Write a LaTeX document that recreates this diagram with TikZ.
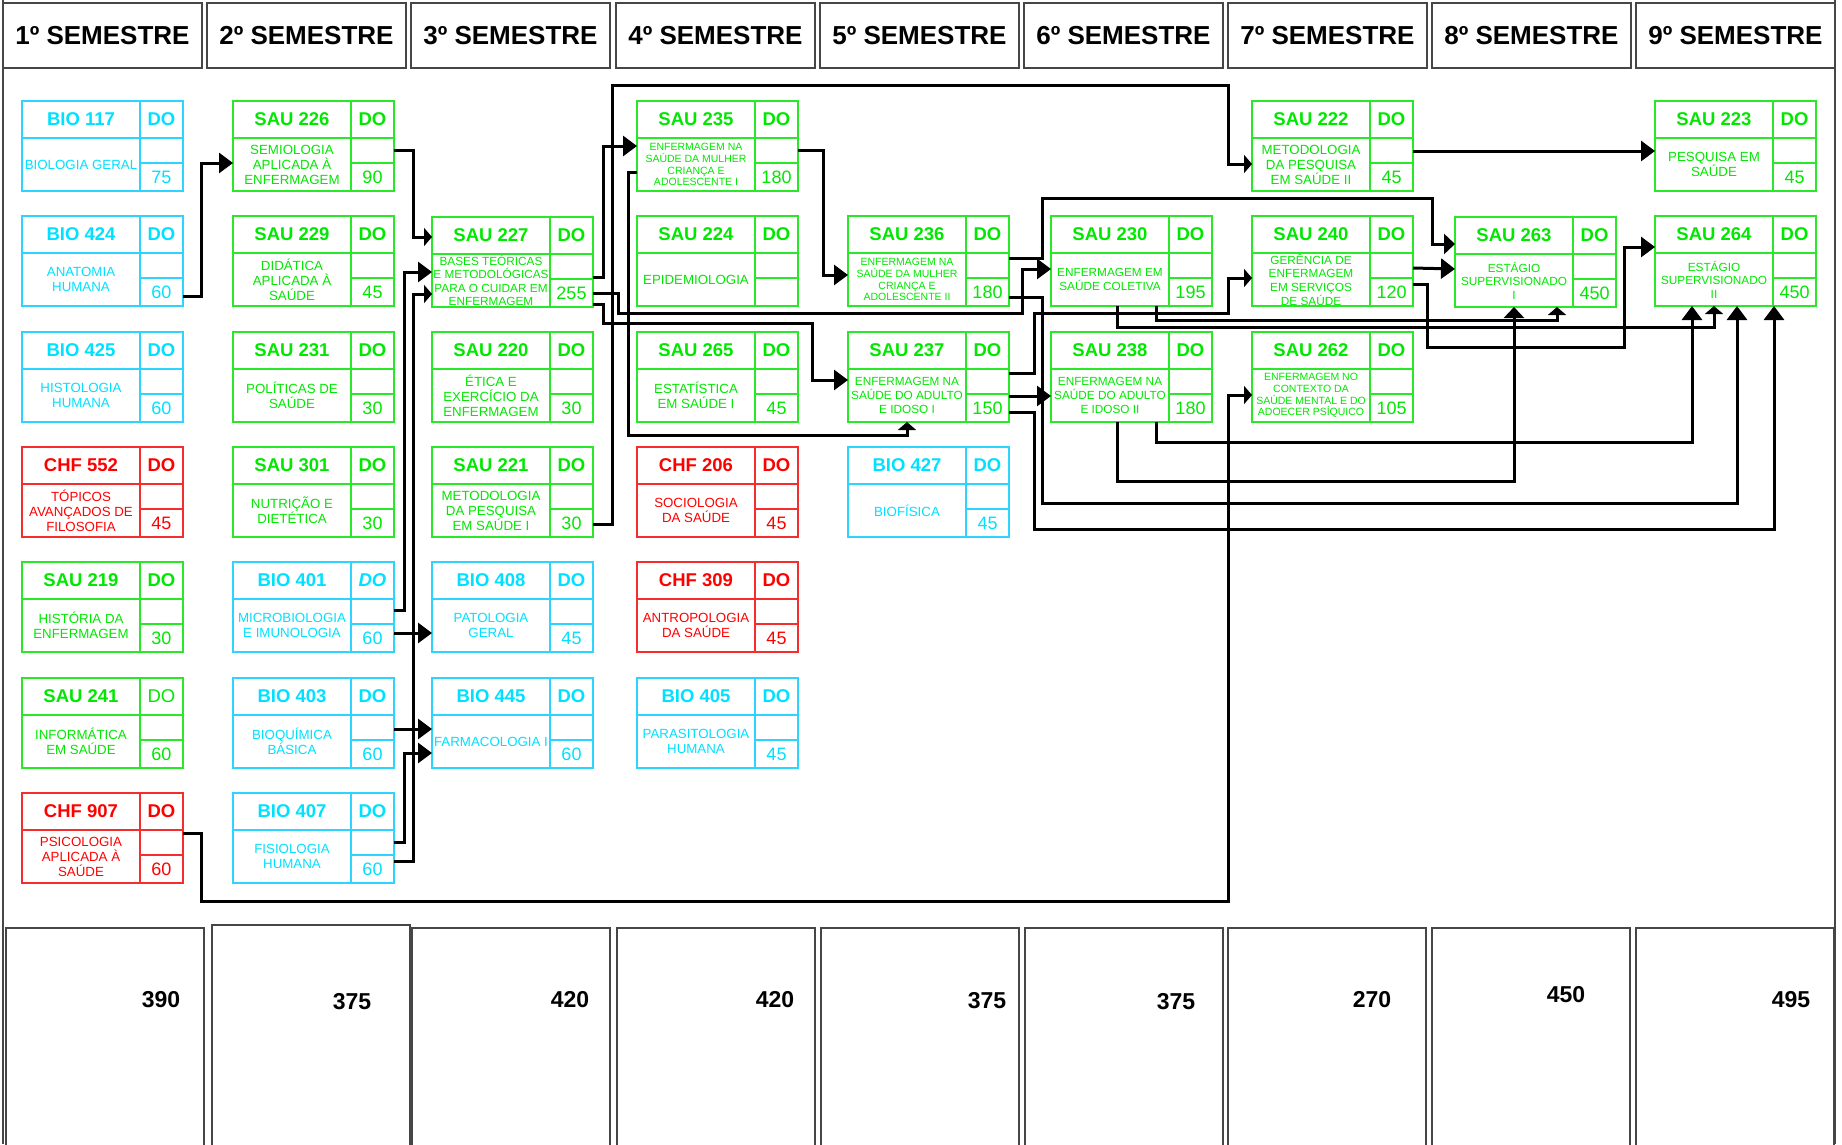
\documentclass[tikz,border=0pt]{standalone}
\usepackage{fontspec}
\setmainfont{Liberation Sans}
\usetikzlibrary{arrows.meta}
\definecolor{cy}{RGB}{0,225,255}
\definecolor{cyL}{RGB}{45,212,255}
\definecolor{gr}{RGB}{0,232,0}
\definecolor{grL}{RGB}{40,232,40}
\definecolor{rd}{RGB}{255,0,0}
\definecolor{rdL}{RGB}{245,45,45}
\newcommand{\fcode}{\fontsize{18.5}{20}\selectfont\bfseries}
\newcommand{\fnum}{\fontsize{18}{20}\selectfont}
\newcommand{\ftit}{\fontsize{13.3}{15}\selectfont}
\newcommand{\ftitM}{\fontsize{11.8}{13.6}\selectfont}
\newcommand{\ftitS}{\fontsize{10.5}{11.8}\selectfont}
\newcommand{\crs}[9]{%
 \node[cbox, draw=#4L, anchor=north west] (#1) at (#2,#3) {};
 \draw[draw=#4L, line width=1.5pt] ([xshift=118pt]#1.north west) -- ([xshift=118pt]#1.south west)
   ([yshift=-37pt]#1.north west) -- ([yshift=-37pt]#1.north east)
   ([xshift=118pt,yshift=-62pt]#1.north west) -- ([yshift=-62pt]#1.north east);
 \node[text=#4, font=\fcode] (#1c) at ([xshift=59pt,yshift=-18.5pt]#1.north west) {#5};
 \node[text=#4, font=\fcode#6] (#1d) at ([xshift=139.5pt,yshift=-18.5pt]#1.north west) {DO};
 \node[text=#4, font=#9, align=center, inner sep=0pt] (#1t) at ([xshift=59pt,yshift=-63.5pt]#1.north west) {#7};
 \node[text=#4, font=\fnum] (#1n) at ([xshift=139.5pt,yshift=-76pt]#1.north west) {#8};
}
\tikzset{
 cbox/.style={minimum width=161pt, minimum height=90pt, inner sep=0pt, outer sep=0pt, line width=1.5pt},
 hdr/.style={draw=gray!55!black, line width=1.5pt, minimum width=199pt, minimum height=65pt, inner sep=0pt, font=\fontsize{26}{30}\selectfont\bfseries},
 tot/.style={draw=gray!55!black, line width=1.5pt, minimum width=198pt, minimum height=240pt, inner sep=0pt, anchor=north west},
 totnum/.style={font=\fontsize{23}{26}\selectfont\bfseries},
 conn/.style={draw=black, line width=3pt},
 abig/.style={conn, -{Triangle[length=14pt,width=20pt]}},
 amed/.style={conn, -{Triangle[length=11pt,width=20pt]}},
 asml/.style={conn, -{Triangle[length=8pt,width=18pt]}},
}
\begin{document}
\begin{tikzpicture}[x=1pt,y=-1pt]
\useasboundingbox[fill=white] (0,0) rectangle (1842,1144);
% frame
\draw[gray!55!black, line width=1.3pt] (3,0) -- (3,1144);
\draw[gray!55!black, line width=1.3pt] (1835,0) -- (1835,1144);
% headers
\node[hdr] (h1) at (102.5,35.5) {1º SEMESTRE};
\node[hdr] (h2) at (306.5,35.5) {2º SEMESTRE};
\node[hdr] (h3) at (510.5,35.5) {3º SEMESTRE};
\node[hdr] (h4) at (715.5,35.5) {4º SEMESTRE};
\node[hdr] (h5) at (919.5,35.5) {5º SEMESTRE};
\node[hdr] (h6) at (1123.5,35.5) {6º SEMESTRE};
\node[hdr] (h7) at (1327.5,35.5) {7º SEMESTRE};
\node[hdr] (h8) at (1531.5,35.5) {8º SEMESTRE};
\node[hdr] (h9) at (1735.5,35.5) {9º SEMESTRE};
% totals
\node[tot] (t1) at (5,927) {};
\node[tot] (t2) at (211,924) {};
\node[tot] (t3) at (411,927) {};
\node[tot] (t4) at (616,927) {};
\node[tot] (t5) at (820,927) {};
\node[tot] (t6) at (1024,927) {};
\node[tot] (t7) at (1227,927) {};
\node[tot] (t8) at (1431,927) {};
\node[tot] (t9) at (1635,927) {};
\node[totnum] (n1) at (161,1000) {390};
\node[totnum] (n2) at (352,1002) {375};
\node[totnum] (n3) at (570,1000) {420};
\node[totnum] (n4) at (775,1000) {420};
\node[totnum] (n5) at (987,1001) {375};
\node[totnum] (n6) at (1176,1002) {375};
\node[totnum] (n7) at (1372,1000) {270};
\node[totnum] (n8) at (1566,995) {450};
\node[totnum] (n9) at (1791,1000) {495};
% column 1
\crs{b117}{22}{101}{cy}{BIO 117}{}{BIOLOGIA GERAL}{75}{\ftit}
\crs{b424}{22}{216}{cy}{BIO 424}{}{ANATOMIA\\HUMANA}{60}{\ftit}
\crs{b425}{22}{332}{cy}{BIO 425}{}{HISTOLOGIA\\HUMANA}{60}{\ftit}
\crs{c552}{22}{447}{rd}{CHF 552}{}{TÓPICOS\\AVANÇADOS DE\\FILOSOFIA}{45}{\ftit}
\crs{s219}{22}{562}{gr}{SAU 219}{}{HISTÓRIA DA\\ENFERMAGEM}{30}{\ftit}
\crs{s241}{22}{678}{gr}{SAU 241}{\mdseries}{INFORMÁTICA\\EM SAÚDE}{60}{\ftit}
\crs{c907}{22}{793}{rd}{CHF 907}{}{PSICOLOGIA\\APLICADA À\\SAÚDE}{60}{\ftit}
% column 2
\crs{s226}{233}{101}{gr}{SAU 226}{}{SEMIOLOGIA\\APLICADA À\\ENFERMAGEM}{90}{\ftit}
\crs{s229}{233}{216}{gr}{SAU 229}{}{DIDÁTICA\\APLICADA À\\SAÚDE}{45}{\ftit}
\crs{s231}{233}{332}{gr}{SAU 231}{}{POLÍTICAS DE\\SAÚDE}{30}{\ftit}
\crs{s301}{233}{447}{gr}{SAU 301}{}{NUTRIÇÃO E\\DIETÉTICA}{30}{\ftit}
\crs{b401}{233}{562}{cy}{BIO 401}{\itshape}{MICROBIOLOGIA\\E IMUNOLOGIA}{60}{\ftit}
\crs{b403}{233}{678}{cy}{BIO 403}{}{BIOQUÍMICA\\BÁSICA}{60}{\ftit}
\crs{b407}{233}{793}{cy}{BIO 407}{}{FISIOLOGIA\\HUMANA}{60}{\ftit}
% column 3
\crs{s227}{432}{217}{gr}{SAU 227}{}{BASES TEÓRICAS\\E METODOLÓGICAS\\PARA O CUIDAR EM\\ENFERMAGEM}{255}{\ftitM}
\crs{s220}{432}{332}{gr}{SAU 220}{}{ÉTICA E\\EXERCÍCIO DA\\ENFERMAGEM}{30}{\ftit}
\crs{s221}{432}{447}{gr}{SAU 221}{}{METODOLOGIA\\DA PESQUISA\\EM SAÚDE I}{30}{\ftit}
\crs{b408}{432}{562}{cy}{BIO 408}{}{PATOLOGIA\\GERAL}{45}{\ftit}
\crs{b445}{432}{678}{cy}{BIO 445}{}{FARMACOLOGIA I}{60}{\ftit}
% column 4
\crs{s235}{637}{101}{gr}{SAU 235}{}{ENFERMAGEM NA\\SAÚDE DA MULHER\\CRIANÇA E\\ADOLESCENTE I}{180}{\ftitS}
\crs{s224}{637}{216}{gr}{SAU 224}{}{EPIDEMIOLOGIA}{}{\ftit}
\crs{s265}{637}{332}{gr}{SAU 265}{}{ESTATÍSTICA\\EM SAÚDE I}{45}{\ftit}
\crs{c206}{637}{447}{rd}{CHF 206}{}{SOCIOLOGIA\\DA SAÚDE}{45}{\ftit}
\crs{c309}{637}{562}{rd}{CHF 309}{}{ANTROPOLOGIA\\DA SAÚDE}{45}{\ftit}
\crs{b405}{637}{678}{cy}{BIO 405}{}{PARASITOLOGIA\\HUMANA}{45}{\ftit}
% column 5
\crs{s236}{848}{216}{gr}{SAU 236}{}{ENFERMAGEM NA\\SAÚDE DA MULHER\\CRIANÇA E\\ADOLESCENTE II}{180}{\ftitS}
\crs{s237}{848}{332}{gr}{SAU 237}{}{ENFERMAGEM NA\\SAÚDE DO ADULTO\\E IDOSO I}{150}{\ftitM}
\crs{b427}{848}{447}{cy}{BIO 427}{}{BIOFÍSICA}{45}{\ftit}
% column 6
\crs{s230}{1051}{216}{gr}{SAU 230}{}{ENFERMAGEM EM\\SAÚDE COLETIVA}{195}{\ftitM}
\crs{s238}{1051}{332}{gr}{SAU 238}{}{ENFERMAGEM NA\\SAÚDE DO ADULTO\\E IDOSO II}{180}{\ftitM}
% column 7
\crs{s222}{1252}{101}{gr}{SAU 222}{}{METODOLOGIA\\DA PESQUISA\\EM SAÚDE II}{45}{\ftit}
\crs{s240}{1252}{216}{gr}{SAU 240}{}{GERÊNCIA DE\\ENFERMAGEM\\EM SERVIÇOS\\DE SAÚDE}{120}{\ftitM}
\crs{s262}{1252}{332}{gr}{SAU 262}{}{ENFERMAGEM NO\\CONTEXTO DA\\SAÚDE MENTAL E DO\\ADOECER PSÍQUICO}{105}{\ftitS}
% column 8
\crs{s263}{1455}{217}{gr}{SAU 263}{}{ESTÁGIO\\SUPERVISIONADO\\I}{450}{\ftitM}
% column 9
\crs{s223}{1655}{101}{gr}{SAU 223}{}{PESQUISA EM\\SAÚDE}{45}{\ftit}
\crs{s264}{1655}{216}{gr}{SAU 264}{}{ESTÁGIO\\SUPERVISIONADO\\II}{450}{\ftitM}
% connectors
\draw[abig] ([yshift=-35pt]b424.east) -- ++(18,0) |- ([yshift=-17pt]s226.west);
\draw[asml] ([yshift=-4pt]s226.east) -- ++(19,0) |- ([yshift=25pt]s227.west);
\draw[abig] ([yshift=-3pt]b401.east) -- ++(10,0) |- ([yshift=-10pt]s227.west);
\draw[asml] ([yshift=-23pt]b407.east) -- ++(19,0) |- ([yshift=-32pt]s227.west);
\draw[abig] ([yshift=-26pt]b401.east) -- ([yshift=-26pt]b408.west);
\draw[abig] ([yshift=-6pt]b403.east) -- ([yshift=-6pt]b445.west);
\draw[abig] ([yshift=-4pt]b407.east) -- ++(10,0) |- ([yshift=-30pt]b445.west);
\draw[abig] ([yshift=-15pt]s227.east) -- ++(10,0) |- (s235.west);
\draw[abig] ([yshift=-31pt]s227.east) -- ++(25,0) -- (618,313) -- (1022,313) |- ([yshift=-8pt]s230.west);
\draw[abig] ([yshift=-42pt]s227.east) -- ++(10,0) -- (603,323) -- (812,323) |- ([yshift=-3pt]s237.west);
\draw[asml] ([yshift=-32pt]s221.east) -- ++(19,0) -- (612,85) -- (1228,85) |- ([yshift=-18pt]s222.west);
\draw[asml] ([yshift=-26pt]s235.west) -- ++(-9,0) -- (628,435) -| ([xshift=-21.5pt]s237.south);
\draw[abig] ([yshift=-4pt]s235.east) -- ++(25,0) |- ([yshift=-14pt]s236.west);
\draw[amed] ([yshift=3pt]s236.east) -- ++(33,0) -- (1042,198) -- (1432,198) |- ([yshift=18pt]s263.west);
\draw[abig] ([yshift=-36pt]s236.east) -- ++(33,0) -- (1042,503) -| ([xshift=1.5pt]s264.south);
\draw[abig] ([yshift=-19pt]s237.east) -- ([yshift=-19pt]s238.west);
\draw[asml] ([yshift=4pt]s237.east) -- ++(25,0) -- (1034,313) -- (1228,313) |- ([yshift=-17pt]s240.west);
\draw[abig] ([yshift=-35pt]s237.east) -- ++(25,0) -- (1034,529) -| ([xshift=38.5pt]s264.south);
\draw[asml] ([xshift=24.5pt]s230.south) -- ++(0,14) -| ([xshift=21.5pt]s263.south);
\draw[asml] ([xshift=-14.5pt]s230.south) -- ++(0,21) -| ([xshift=-21.5pt]s264.south);
\draw[amed] ([xshift=-14.5pt]s238.south) -- ++(0,59) -| ([xshift=-21.5pt]s263.south);
\draw[abig] ([xshift=24.5pt]s238.south) -- ++(0,20) -| ([xshift=-43.5pt]s264.south);
\draw[abig] ([yshift=-7pt]s240.east) -- ([yshift=-7pt]s263.west);
\draw[abig] ([yshift=-23pt]s240.east) -- ++(14,0) -- (1427,347) -- (1624,347) |- ([yshift=14pt]s264.west);
\draw[abig] ([yshift=-5pt]s222.east) -- ([yshift=-5pt]s223.west);
\draw[asml] ([yshift=5pt]c907.east) -- ++(18,0) -- (201,901) -- (1228,901) |- ([yshift=-18pt]s262.west);
\end{tikzpicture}
\end{document}
